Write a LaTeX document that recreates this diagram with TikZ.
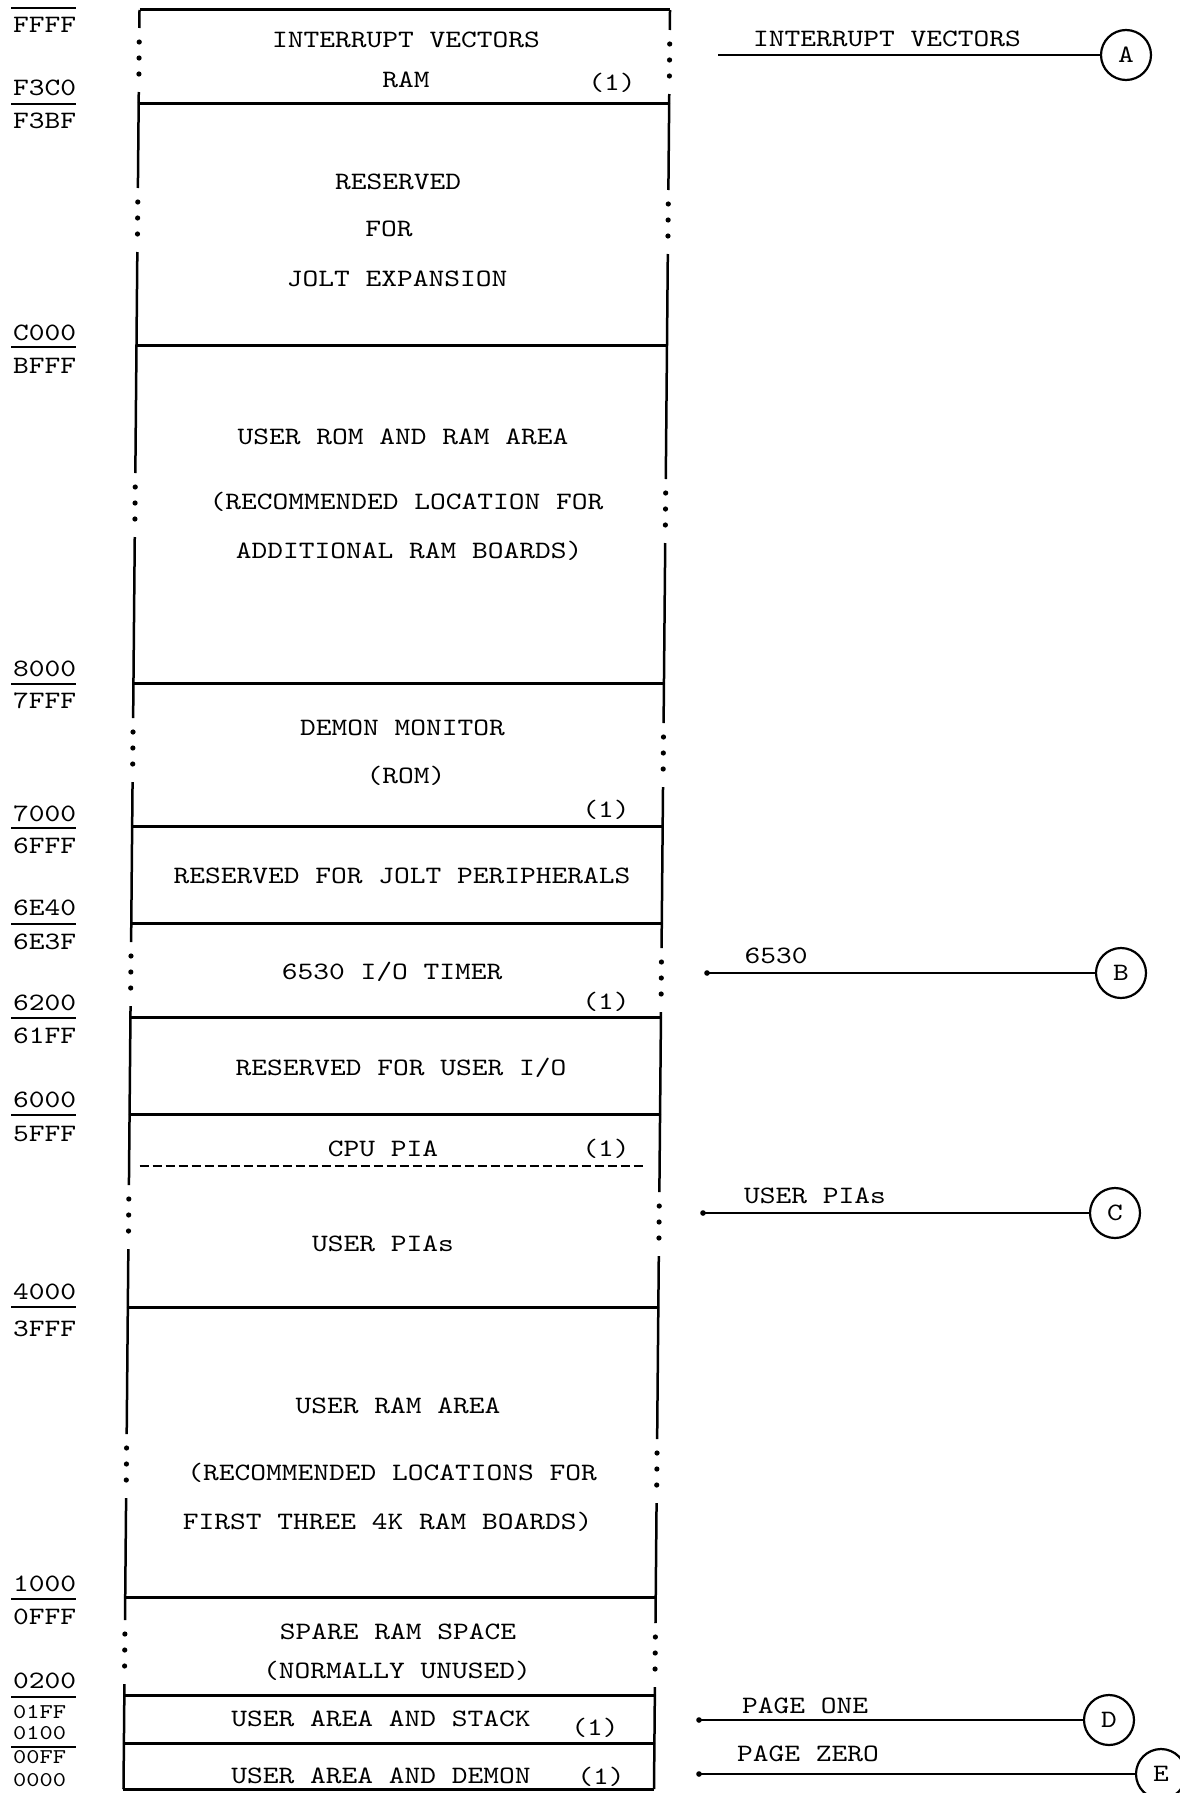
\documentclass[tikz,border=0pt]{standalone}
\usepackage{fontspec}
\newfontfamily\tw{lmmono10-regular.otf}[FakeStretch=1.2]
\newcommand\gapside[4]{%
  \draw[edge] (#1,#2) -- (#1,#4-30);
  \draw[edge] (#1,#4+34) -- (#1,#3);
  \foreach \d in {-16,0,16} \fill (#1,#4+\d) circle (2.6);}
\newcommand\solidside[3]{\draw[edge] (#1,#2) -- (#1,#3);}
\begin{document}
\begin{tikzpicture}[x=1pt,y=-1pt,
  lbl/.style={font=\tw\fontsize{25}{30}\selectfont, inner sep=0pt, text height=15pt, text depth=0pt},
  addr/.style={lbl, anchor=west},
  saddr/.style={addr, font=\tw\fontsize{21}{24}\selectfont, text height=12.5pt},
  edge/.style={line width=2.5pt},
  sep/.style={line width=3pt},
  aline/.style={line width=2pt},
  conn/.style={line width=2.4pt},
  dashline/.style={line width=2.2pt, dash pattern=on 9pt off 4pt},
  letter/.style={draw, circle, line width=2.2pt, minimum size=50pt, inner sep=0pt, font=\tw\fontsize{25}{28}\selectfont}]
\useasboundingbox[fill=white] (0,0) rectangle (1179,1793);

% ---- memory map box (slightly skewed like the scan) ----
\begin{scope}[xslant=0.009]
  \foreach \y in {10,103,345,683,826,923,1017,1114,1307,1597,1695,1743,1789}
    \draw[sep] (139.6,\y) -- (670.1,\y);
  % left side
  \gapside{139.6}{10}{103}{58}
  \gapside{139.6}{103}{345}{218}
  \gapside{139.6}{345}{683}{503}
  \gapside{139.6}{683}{826}{748}
  \solidside{139.6}{826}{923}
  \gapside{139.6}{923}{1017}{972}
  \solidside{139.6}{1017}{1114}
  \gapside{139.6}{1114}{1307}{1215}
  \gapside{139.6}{1307}{1597}{1464}
  \gapside{139.6}{1597}{1695}{1650}
  \solidside{139.6}{1695}{1743}
  \solidside{139.6}{1743}{1789}
  % right side
  \gapside{670.1}{10}{103}{60}
  \gapside{670.1}{103}{345}{220}
  \gapside{670.1}{345}{683}{509}
  \gapside{670.1}{683}{826}{753}
  \solidside{670.1}{826}{923}
  \gapside{670.1}{923}{1017}{978}
  \solidside{670.1}{1017}{1114}
  \gapside{670.1}{1114}{1307}{1222}
  \gapside{670.1}{1307}{1597}{1469}
  \gapside{670.1}{1597}{1695}{1653}
  \solidside{670.1}{1695}{1743}
  \solidside{670.1}{1743}{1789}
  % CPU PIA / USER PIAs divider
  \draw[dashline] (150,1166) -- (656.5,1166);
\end{scope}

% ---- texts inside the box ----
\node[lbl] (t1) at (406,40) {INTERRUPT VECTORS};
\node[lbl] (t2) at (406,80) {RAM};
\node[lbl] (n1) at (612,83) {(1)};
\node[lbl] (t3) at (398,182) {RESERVED};
\node[lbl] (t4) at (389,229) {FOR};
\node[lbl] (t5) at (397,279) {JOLT EXPANSION};
\node[lbl] (t6) at (403,437) {USER ROM AND RAM AREA};
\node[lbl] (t7) at (406.5,502) {(RECOMMENDED LOCATION FOR};
\node[lbl] (t8) at (409,551) {ADDITIONAL RAM BOARDS)};
\node[lbl] (t9) at (402.5,728) {DEMON MONITOR};
\node[lbl] (t10) at (406,776) {(ROM)};
\node[lbl] (n2) at (606,810) {(1)};
\node[lbl] (t11) at (402,876) {RESERVED FOR JOLT PERIPHERALS};
\node[lbl] (t12) at (392,972) {6530 I/O TIMER};
\node[lbl] (n3) at (606,1002) {(1)};
\node[lbl] (t13) at (401,1068) {RESERVED FOR USER I/O};
\node[lbl] (t14) at (383,1149) {CPU PIA};
\node[lbl] (n4) at (606,1149) {(1)};
\node[lbl] (t15) at (383,1244) {USER PIAs};
\node[lbl] (t16) at (398,1406) {USER RAM AREA};
\node[lbl] (t17) at (392,1473) {(RECOMMENDED LOCATIONS FOR};
\node[lbl] (t18) at (387.6,1522) {FIRST THREE 4K RAM BOARDS)};
\node[lbl] (t19) at (398,1632) {SPARE RAM SPACE};
\node[lbl] (t20) at (397,1671) {(NORMALLY UNUSED)};
\node[lbl] (t21) at (381,1719) {USER AREA AND STACK};
\node[lbl] (n5) at (595,1728) {(1)};
\node[lbl] (t22) at (381,1776) {USER AREA AND DEMON};
\node[lbl] (n6) at (601,1777) {(1)};

% ---- addresses on the left ----
\draw[aline] (11,8) -- (76,8);
\node[addr] (a1) at (13,25) {FFFF};
\node[addr] (a2) at (13,88) {F3C0};
\draw[aline] (11,104) -- (76,104);
\node[addr] (a3) at (13,121) {F3BF};
\node[addr] (a4) at (13,333) {C000};
\draw[aline] (11,347) -- (76,347);
\node[addr] (a5) at (13,366) {BFFF};
\node[addr] (a6) at (13,669) {8000};
\draw[aline] (11,684) -- (76,684);
\node[addr] (a7) at (13,701) {7FFF};
\node[addr] (a8) at (13,814) {7000};
\draw[aline] (11,828) -- (76,828);
\node[addr] (a9) at (13,846) {6FFF};
\node[addr] (a10) at (13,908) {6E40};
\draw[aline] (11,924) -- (76,924);
\node[addr] (a11) at (13,942) {6E3F};
\node[addr] (a12) at (13,1003) {6200};
\draw[aline] (11,1018) -- (76,1018);
\node[addr] (a13) at (13,1036) {61FF};
\node[addr] (a14) at (13,1100) {6000};
\draw[aline] (11,1115) -- (76,1115);
\node[addr] (a15) at (13,1134) {5FFF};
\node[addr] (a16) at (13,1292) {4000};
\draw[aline] (11,1307) -- (76,1307);
\node[addr] (a17) at (13,1329) {3FFF};
\node[addr] (a18) at (13,1584) {1000};
\draw[aline] (11,1599) -- (76,1599);
\node[addr] (a19) at (13,1617) {0FFF};
\node[addr] (a20) at (13,1681) {0200};
\draw[aline] (11,1697) -- (76,1697);
\node[saddr] (a21) at (13,1712) {01FF};
\node[saddr] (a22) at (13,1733) {0100};
\draw[aline] (11,1747) -- (76,1747);
\node[saddr] (a23) at (13,1757) {00FF};
\node[saddr] (a24) at (13,1780) {0000};

% ---- connectors on the right ----
\node[letter] (A) at (1126,55) {A};
\coordinate (a0) at (718,55);
\draw[conn] (a0) -- (A);
\node[lbl] (la) at (887,39) {INTERRUPT VECTORS};

\node[letter] (B) at (1121,973) {B};
\coordinate (b0) at (707,973);
\draw[conn] (b0) -- (B);
\fill (b0) circle (2.8);
\node[lbl] (lb) at (776,956) {6530};

\node[letter] (C) at (1115,1213) {C};
\coordinate (c0) at (703,1213);
\draw[conn] (c0) -- (C);
\fill (c0) circle (2.8);
\node[lbl] (lc) at (815,1196) {USER PIAs};

\node[letter] (D) at (1109,1720) {D};
\coordinate (d0) at (699,1720);
\draw[conn] (d0) -- (D);
\fill (d0) circle (2.8);
\node[lbl] (ld) at (805,1706) {PAGE ONE};

\node[letter] (E) at (1161,1774) {E};
\coordinate (e0) at (699,1774);
\draw[conn] (e0) -- (E);
\fill (e0) circle (2.8);
\node[lbl] (le) at (808,1754) {PAGE ZERO};
\end{tikzpicture}
\end{document}
